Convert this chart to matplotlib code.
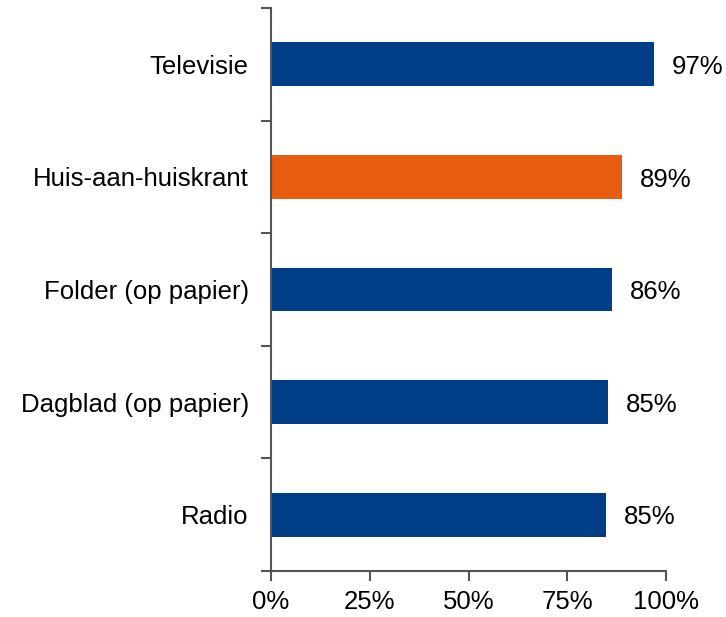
import matplotlib.pyplot as plt
import matplotlib.ticker as mtick
import numpy as np

plt.rcParams['font.family'] = ['Liberation Sans', 'DejaVu Sans']

categories = ['Televisie', 'Huis-aan-huiskrant', 'Folder (op papier)', 'Dagblad (op papier)', 'Radio']
values = [97, 89, 86, 85, 85]
bar_ends = [97.0, 88.9, 86.4, 85.3, 84.8]
colors = ['#003f87', '#e85c12', '#003f87', '#003f87', '#003f87']

fig = plt.figure(figsize=(7.26, 6.17), dpi=100)
ax = fig.add_axes([0.3733, 0.0746, 0.5441, 0.9124])

y = np.arange(len(categories))[::-1]
ax.barh(y, bar_ends, height=0.39, color=colors)

for yi, v, e in zip(y, values, bar_ends):
    ax.annotate(f'{v}%', (e, yi), xytext=(13, -2), textcoords='offset points',
                va='center', ha='left', fontsize=18.5)

ax.set_xlim(0, 100)
ax.set_ylim(-0.5, len(categories) - 0.5)
ax.set_xticks([0, 25, 50, 75, 100])
ax.xaxis.set_major_formatter(mtick.PercentFormatter(decimals=0))
ax.set_yticks(y)
ax.set_yticklabels(categories)
ax.set_yticks(np.arange(-0.5, len(categories)), minor=True)
ax.tick_params(axis='y', which='major', length=0, pad=16, labelsize=18.5)
ax.tick_params(axis='y', which='minor', length=7, width=1.5, color='#555555')
ax.tick_params(axis='x', length=7, width=1.5, color='#555555', labelsize=18.5, pad=7)

for s in ['top', 'right']:
    ax.spines[s].set_visible(False)
for s in ['left', 'bottom']:
    ax.spines[s].set_color('#555555')
    ax.spines[s].set_linewidth(1.5)

fig.savefig('out.png', dpi=100)
